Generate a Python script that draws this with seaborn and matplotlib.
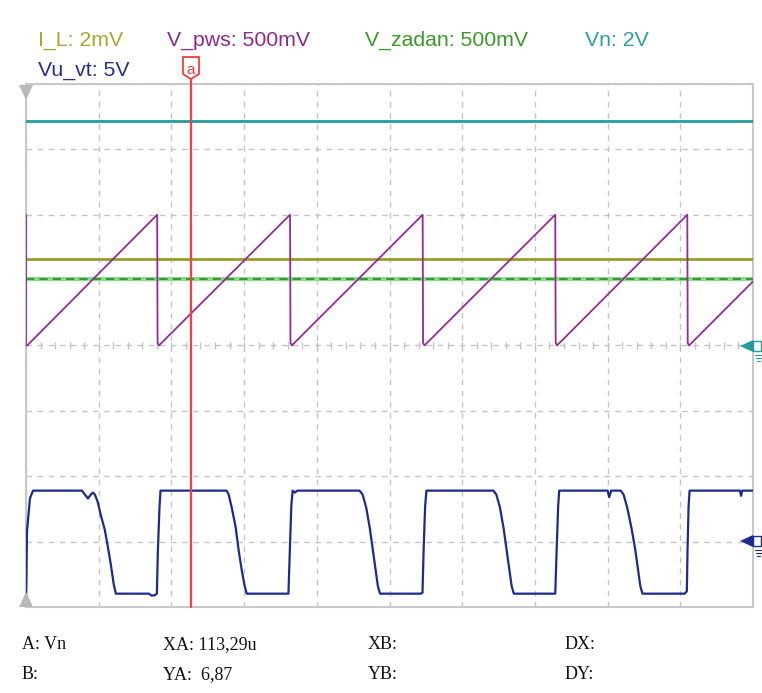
import matplotlib
matplotlib.use("Agg")
import matplotlib.pyplot as plt
from matplotlib.patches import Polygon, Rectangle
import numpy as np
import pandas as pd
import seaborn as sns

# ---- channel settings: volts per division and ground position (divisions) ----
ch_names = ["I_L", "V_pws", "V_zadan", "Vn", "Vu_vt"]
ch_scale_label = ["2mV", "500mV", "500mV", "2V", "5V"]
ch_volts_per_div = [0.002, 0.5, 0.5, 2.0, 5.0]
ch_ground_div = [0.0, 0.0, 0.0, 0.0, -3.0]
ch_colors = ["#9c9a2c", "#942c94", "#2e9a2e", "#279a9e", "#1e2a8c"]
label_colors = ["#b0a22e", "#8e2a8e", "#3a9a28", "#2a9fa8", "#27308c"]

# ---- flat channels (time in us, value in channel units) ----
il_t = [0.0, 500.0]
il_v = [0.00266, 0.00266]
zadan_t = [0.0, 500.0]
zadan_v = [0.505, 0.505]
vn_t = [0.0, 500.0]
vn_v = [6.87, 6.87]

# ---- sawtooth V_pws (vertices, us / V) ----
pws_t = [0.0, 0.0, 0.8, 90.2, 90.5, 91.4,
         181.6, 181.9, 182.8,
         272.8, 273.1, 274.0,
         364.0, 364.3, 365.2,
         454.8, 455.1, 456.0, 500.0]
pws_v = [1.0, 0.0, 0.0, 1.0, 0.02, 0.0,
         1.0, 0.02, 0.0,
         1.0, 0.02, 0.0,
         1.0, 0.02, 0.0,
         1.0, 0.02, 0.0, 0.49]

# ---- square wave Vu_vt (vertices, us / V) ----
vu_t = [0.0, 0.3, 0.7, 2.7, 4.8, 38.5, 40.5, 42.6, 44.6, 46.0, 47.4, 49.4, 51.5,
        54.2, 56.3, 58.4, 60.4, 61.8, 84.5, 86.5, 88.6, 90.0, 90.7, 91.8, 92.5,
        138.0, 139.4, 141.5, 144.2, 146.3, 148.4, 150.4, 151.8, 180.5, 181.5,
        182.5, 183.4, 185.0, 186.5, 229.4, 231.5, 234.0, 236.5, 238.5, 240.5,
        242.0, 243.5, 271.5, 272.7, 273.5, 274.5, 275.4, 321.4, 323.5, 326.0,
        328.5, 330.5, 332.5, 334.0, 335.5, 364.0, 365.0, 366.0, 366.7, 400.0,
        401.1, 402.5, 409.0, 411.0, 413.5, 416.5, 419.0, 421.0, 422.5, 424.0,
        453.0, 454.5, 455.0, 455.7, 456.4, 491.0, 491.8, 492.6, 500.0]
vu_v = [-4.2, -2.9, 0.8, 3.3, 3.9, 3.9, 3.6, 3.3, 3.6, 3.75, 3.6, 3.0, 2.0,
        0.9, -0.4, -1.8, -3.3, -3.98, -3.98, -4.13, -4.1, -3.98, -0.7, 2.6, 3.9,
        3.9, 3.6, 2.6, 1.1, -0.7, -2.2, -3.4, -3.98, -3.98, -0.5,
        2.8, 3.9, 3.75, 3.9, 3.9, 3.6, 2.6, 1.0, -0.6, -2.2,
        -3.4, -3.98, -3.98, -3.9, -0.5, 2.7, 3.9, 3.9, 3.6, 2.6,
        1.0, -0.6, -2.2, -3.4, -3.98, -3.98, -0.5, 2.7, 3.9, 3.9,
        3.4, 3.9, 3.9, 3.6, 2.6, 1.0, -0.6, -2.2, -3.4, -3.98,
        -3.98, -3.8, -0.5, 2.7, 3.9, 3.9, 3.5, 3.9, 3.9]

# ---- cursor readout ----
cursor_xa = 113.29
cursor_ya = 6.87


def to_div(values, idx):
    return np.asarray(values) / ch_volts_per_div[idx] + ch_ground_div[idx]


def frame(t, v, idx):
    return pd.DataFrame({"t": t, "div": to_div(v, idx)})


sns.set_theme(style="white")
plt.rcParams["font.family"] = ["Liberation Sans", "DejaVu Sans"]

W, H = 762, 693
fig = plt.figure(figsize=(W / 100, H / 100), dpi=100)
fig.patch.set_facecolor("white")
L, R, T, B = 26, 753, 84, 607
ax = fig.add_axes([L / W, 1 - B / H, (R - L) / W, (B - T) / H])
ax.set_facecolor("white")
ax.set_xlim(0, 500)
ax.set_ylim(-4, 4)

# graticule
ax.set_xticks(np.arange(0, 501, 50))
ax.set_yticks(np.arange(-4, 5, 1))
ax.grid(True, color="#c4c4c4", linestyle=(0, (4, 4)), linewidth=1.0)
ax.tick_params(length=0, labelbottom=False, labelleft=False)
for s in ax.spines.values():
    s.set_color("#c8c8c8")
    s.set_linewidth(1.5)
minor = np.arange(10, 500, 10)
ax.vlines(minor, -0.06, 0.06, color="#c4c4c4", lw=1.0, zorder=1)

# traces (drawn above the frame so edge segments stay visible)
kw = dict(estimator=None, sort=False, legend=False, ax=ax, zorder=3)
df = frame(zadan_t, zadan_v, 2)
sns.lineplot(data=df, x="t", y="div", color="#8fd88f", lw=3.0, **kw)
sns.lineplot(data=df, x="t", y="div", color="#2a8a2a", lw=1.2,
             linestyle=(0, (5, 3)), **kw)
sns.lineplot(data=frame(il_t, il_v, 0), x="t", y="div", color=ch_colors[0],
             lw=2.0, **kw)
sns.lineplot(data=frame(vn_t, vn_v, 3), x="t", y="div", color=ch_colors[3],
             lw=2.0, **kw)
sns.lineplot(data=frame(pws_t, pws_v, 1), x="t", y="div", color=ch_colors[1],
             lw=1.3, **kw)
sns.lineplot(data=frame(vu_t, vu_v, 4), x="t", y="div", color=ch_colors[4],
             lw=1.6, **kw)

# cursor A
ax.axvline(cursor_xa, ymin=0, ymax=1.012, color="#ff3b3b", lw=1.6,
           clip_on=False, zorder=6)


def px(x, y):
    return (x / W, 1 - y / H)


# cursor flag
flag = [px(183, 57), px(199, 57), px(199, 74), px(191, 79), px(183, 74)]
fig.patches.append(Polygon(flag, closed=True, facecolor="white",
                           edgecolor="#ff3b3b", lw=1.3,
                           transform=fig.transFigure))
fig.text(*px(191, 70), "a", color="#ff3b3b", fontsize=11, ha="center",
         va="center")

# left trigger / level markers
fig.patches.append(Polygon([px(19, 85), px(33, 85), px(26, 100)], closed=True,
                           facecolor="#b8b8b8", edgecolor="none",
                           transform=fig.transFigure))
fig.patches.append(Polygon([px(19, 607), px(33, 607), px(26, 592)], closed=True,
                           facecolor="#b8b8b8", edgecolor="none",
                           transform=fig.transFigure))


# ground markers on the right
def ground_marker(y, color):
    fig.patches.append(Polygon([px(740, y), px(753, y - 6), px(753, y + 6)],
                               closed=True, facecolor=color, edgecolor="none",
                               transform=fig.transFigure))
    fig.patches.append(Rectangle(px(753, y + 5), 8 / W, 10 / H, fill=False,
                                 edgecolor=color, lw=1.0,
                                 transform=fig.transFigure))
    for k, (x0, x1) in enumerate([(755, 762), (756, 761), (757, 760)]):
        fig.lines.append(plt.Line2D([x0 / W, x1 / W],
                                    [1 - (y + 9 + 3 * k) / H] * 2,
                                    color=color, lw=0.8,
                                    transform=fig.transFigure))


ground_marker(346, ch_colors[3])
ground_marker(541, ch_colors[4])

# channel labels
label_x = [38, 167, 365, 585, 38]
label_base = [46, 46, 46, 46, 76]
for i, name in enumerate(ch_names):
    fig.text(label_x[i] / W, 1 - label_base[i] / H,
             f"{name}: {ch_scale_label[i]}", color=label_colors[i],
             fontsize=15.3, ha="left", va="baseline")

# cursor readout
serif = ["Liberation Serif", "DejaVu Serif"]
xa_txt = f"{cursor_xa:.2f}".replace(".", ",") + "u"
ya_txt = f"{cursor_ya:.2f}".replace(".", ",")
readout = [
    (22, 649, "A: Vn"), (163, 649, f"XA: {xa_txt}"), (368, 649, "XB:"),
    (565, 649, "DX:"),
    (22, 679, "B:"), (163, 679, f"YA:  {ya_txt}"), (368, 679, "YB:"),
    (565, 679, "DY:"),
]
for x, y, s in readout:
    fig.text(x / W, 1 - y / H, s, family=serif, fontsize=13, color="#111111",
             ha="left", va="baseline")

fig.savefig("out.png", dpi=100, facecolor="white")
